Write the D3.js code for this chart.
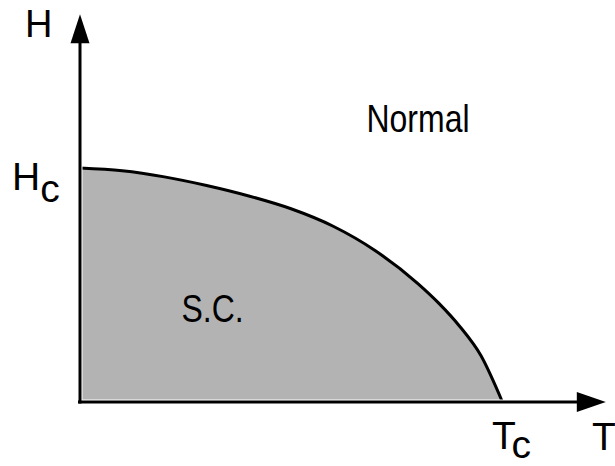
<!DOCTYPE html>
<html>
<head>
<meta charset="utf-8">
<script src="https://cdn.jsdelivr.net/npm/d3@7"></script>
<style>
  body { margin: 0; background: #fff; }
  text { font-family: "Liberation Sans", Arial, sans-serif; fill: #000; }
</style>
</head>
<body>
<div id="chart"></div>
<script>
// critical field curve, T in units of Tc, H in units of Hc
const temps  = [0, 0.1, 0.2, 0.3, 0.4, 0.5, 0.6, 0.7, 0.8, 0.85, 0.9, 0.95, 1.0];
const fields = [1, 0.988, 0.962, 0.925, 0.88, 0.825, 0.75, 0.645, 0.505, 0.42, 0.32, 0.195, 0];
const axisMax = {T: 1.246, H: 1.66};
const labels = {normal: "Normal", sc: "S.C.", h: "H", t: "T", sub: "c"};

const width = 615, height = 466;

const svg = d3.select('#chart')
  .append('svg')
  .attr('width', width)
  .attr('height', height);

const x = d3.scaleLinear().domain([0, 1]).range([80, 502]);
const y = d3.scaleLinear().domain([0, 1]).range([401, 168]);

const pts = temps.map((t, i) => ({t: t, h: fields[i]}));

// gray superconducting region
const area = d3.area()
  .x(d => x(d.t))
  .y0(y(0))
  .y1(d => y(d.h))
  .curve(d3.curveMonotoneX);

svg.append('path')
  .datum(pts)
  .attr('d', area)
  .attr('fill', '#b3b3b3');

// boundary curve
const line = d3.line()
  .x(d => x(d.t))
  .y(d => y(d.h))
  .curve(d3.curveMonotoneX);

svg.append('path')
  .datum(pts)
  .attr('d', line)
  .attr('fill', 'none')
  .attr('stroke', '#000')
  .attr('stroke-width', 3);

// axes: white halo then black line
const xEnd = x(axisMax.T), yEnd = y(axisMax.H);
const y0 = y(0) + 1, x0 = x(0);

[['#fff', 5], ['#000', 3]].forEach(([c, w]) => {
  svg.append('line')
    .attr('x1', x0).attr('y1', y0 + 1.5)
    .attr('x2', x0).attr('y2', yEnd + 20)
    .attr('stroke', c).attr('stroke-width', w);
  svg.append('line')
    .attr('x1', x0 - 2).attr('y1', y0)
    .attr('x2', xEnd - 20).attr('y2', y0)
    .attr('stroke', c).attr('stroke-width', w);
});

// arrow heads
svg.append('path')
  .attr('d', `M${x0},${yEnd} L${x0 - 9.5},${yEnd + 29} L${x0 + 9.5},${yEnd + 29} Z`)
  .attr('fill', '#000');
svg.append('path')
  .attr('d', `M${xEnd},${y0} L${xEnd - 29},${y0 - 10} L${xEnd - 29},${y0 + 10} Z`)
  .attr('fill', '#000');

// labels
svg.append('text').attr('x', 25).attr('y', 36.5).attr('font-size', 38).text(labels.h);

const hc = svg.append('text').attr('x', 12).attr('y', 190).attr('font-size', 39);
hc.append('tspan').text(labels.h);
hc.append('tspan').attr('dy', 11.5).text(labels.sub);

const tc = svg.append('text').attr('x', 492).attr('y', 449).attr('font-size', 39);
tc.append('tspan').text(labels.t);
tc.append('tspan').attr('dy', 8.5).text(labels.sub);

svg.append('text').attr('x', 592).attr('y', 450).attr('font-size', 39).text(labels.t);

svg.append('text')
  .attr('transform', 'translate(366.5,132) scale(0.82,1)')
  .attr('font-size', 39).text(labels.normal);
svg.append('text')
  .attr('transform', 'translate(181.5,322) scale(0.82,1)')
  .attr('font-size', 39).text(labels.sc);
</script>
</body>
</html>
